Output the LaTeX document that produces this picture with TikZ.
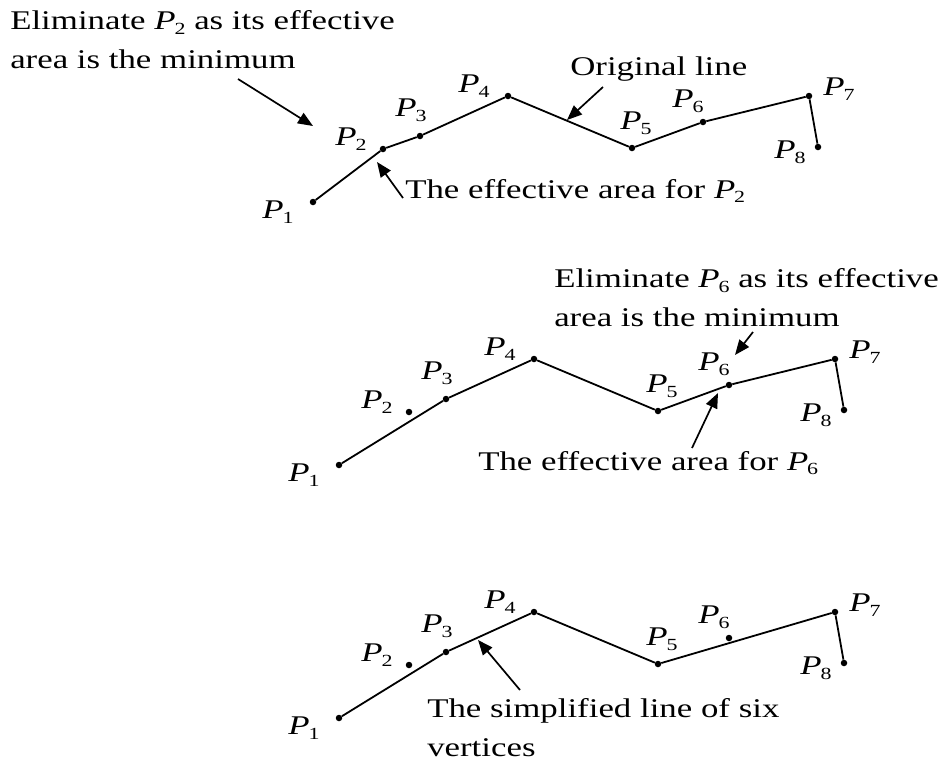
\documentclass[tikz,border=0pt]{standalone}
\usepackage{fontspec}
\setmainfont{Liberation Serif}
\usetikzlibrary{arrows.meta}

\newcommand{\Pn}[1]{\textit{P}\kern-0.03em\raisebox{-0.4ex}{\fontsize{17}{17}\selectfont #1}}

\tikzset{
  txt/.style={font=\fontsize{27}{39}\selectfont, inner sep=0pt, xscale=1.29, transform shape, align=left},
  vtx/.style={circle, fill, inner sep=0pt, minimum size=6.5pt},
  poly/.style={line width=1.8pt},
  ptr/.style={-{Triangle[length=15pt,width=12pt]}, line width=1.7pt},
}

\begin{document}
\begin{tikzpicture}[x=1pt,y=-1pt]
\useasboundingbox (0,0) rectangle (945,764);

% the same eight points, three times
\foreach \pan/\dx/\dy in {a/0/0, b/26/263, c/26/516}{
  \foreach \i/\px/\py/\lx/\ly in {1/313/202/-35/10, 2/383/149/-32/-10, 3/420/136/-9/-26,
      4/508/96/-34/-10, 5/632/148/4/-25, 6/703/122/-15/-21, 7/809/96/30/-7, 8/818/147/-28/5}{
    \node[vtx] (\pan\i) at (\px+\dx,\py+\dy) {};
    \node[txt] (\pan l\i) at (\px+\dx+\lx,\py+\dy+\ly) {\Pn{\i}};
  }
}

\draw[poly] (a1) -- (a2) -- (a3) -- (a4) -- (a5) -- (a6) -- (a7) -- (a8);
\draw[poly] (b1) -- (b3) -- (b4) -- (b5) -- (b6) -- (b7) -- (b8);
\draw[poly] (c1) -- (c3) -- (c4) -- (c5) -- (c7) -- (c8);

% top
\node[txt, anchor=north west] (elimA) at (10,10.5) {Eliminate \Pn{2} as its effective\\area is the minimum};
\node[txt, anchor=base west] (orig) at (570,75) {Original line};
\node[txt, anchor=base west] (effA) at (405,198) {The effective area for \Pn{2}};
\coordinate (elimAs) at (238,79);
\coordinate (elimAt) at (313,126);
\coordinate (origs) at (603,87);
\coordinate (origt) at (567,120);
\coordinate (effAs) at (403,198);
\coordinate (effAt) at (377,162);
\draw[ptr] (elimAs) -- (elimAt);
\draw[ptr] (origs) -- (origt);
\draw[ptr] (effAs) -- (effAt);

% middle
\node[txt, anchor=north west] (elimB) at (554,268.5) {Eliminate \Pn{6} as its effective\\area is the minimum};
\node[txt, anchor=base west] (effB) at (478,470) {The effective area for \Pn{6}};
\coordinate (elimBs) at (753,332);
\coordinate (elimBt) at (735,355);
\coordinate (effBs) at (692,448);
\coordinate (effBt) at (718,393);
\draw[ptr] (elimBs) -- (elimBt);
\draw[ptr] (effBs) -- (effBt);

% bottom
\node[txt, anchor=north west] (simp) at (427,698.5) {The simplified line of six\\vertices};
\coordinate (simps) at (520,690);
\coordinate (simpt) at (478,640);
\draw[ptr] (simps) -- (simpt);
\end{tikzpicture}
\end{document}
